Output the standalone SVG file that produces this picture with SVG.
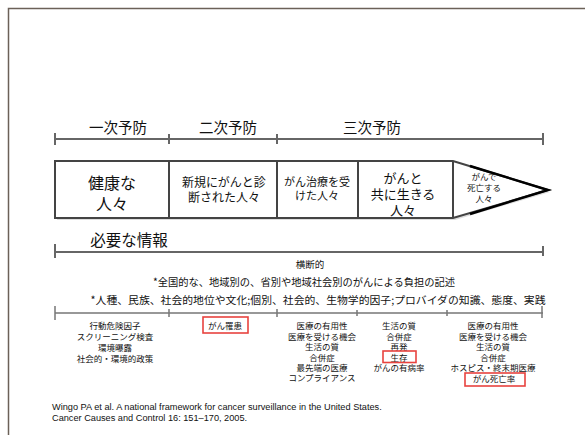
<svg xmlns="http://www.w3.org/2000/svg" width="585" height="435" viewBox="0 0 585 435">
<style>
text{font-family:"Noto Sans CJK JP","Liberation Sans",sans-serif;fill:#111;text-anchor:middle}
.cite{font-family:"Liberation Sans",Arial,sans-serif;text-anchor:start;font-size:9.2px}
.tl{stroke:#666;stroke-width:2;fill:none}
.bl{stroke:#777;stroke-width:1.5;fill:none}
.box{fill:#fff;stroke:#444;stroke-width:2}
.red{fill:none;stroke:#e8433f;stroke-width:1.6}
.s9{font-size:8.5px}
</style>
<rect x="0" y="0" width="585" height="435" fill="#fff"/>
<path d="M8.5 435 V8.5 H585" fill="none" stroke="#6b6158" stroke-width="1.5"/>

<g id="connectors">
<path class="tl" d="M55 139 H543 M55 133 V145 M169 134 V144 M277 134 V144 M543 133 V145"/>
<path class="tl" d="M55 252 H543 M55 244 V258 M543 246 V256"/>
<path class="bl" d="M55 313 H543 M55 306 V320 M169 309 V317 M277 309 V317 M357 310 V316 M447 310 V316 M542 306 V318"/>
</g>

<g id="phase-labels" font-size="14.5">
<text x="118" y="133">一次予防</text>
<text x="228" y="133">二次予防</text>
<text x="372" y="133">三次予防</text>
</g>

<g id="stages">
<path d="M57 163 H455 L550 192 L455 220 H57 Z" fill="#bbb" opacity="0.5"/>
<path class="box" d="M55 161 H453 L548 190 L453 218 H55 Z"/>
<path d="M169 161 V218 M277 161 V218 M358 161 V218 M453 161 V218" stroke="#444" stroke-width="2"/>
<path d="M470 166 L548 190 L470 214" stroke="#000" stroke-width="2.5" fill="none"/>
</g>

<g id="n-healthy" font-size="16">
<text x="112" y="189">健康な</text>
<text x="112" y="210">人々</text>
</g>
<g id="n-diagnosed" font-size="12">
<text x="224" y="187">新規にがんと診</text>
<text x="224" y="202">断された人々</text>
</g>
<g id="n-treated" font-size="11">
<text x="317" y="186">がん治療を受</text>
<text x="317" y="200">けた人々</text>
</g>
<g id="n-living" font-size="13">
<text x="403" y="183">がんと</text>
<text x="403" y="199">共に生きる</text>
<text x="403" y="215">人々</text>
</g>
<g id="n-dying" font-size="8.5">
<text x="484" y="180">がんで</text>
<text x="484" y="191">死亡する</text>
<text x="484" y="202">人々</text>
</g>

<g id="info-header">
<text x="129" y="246" font-size="15.5">必要な情報</text>
</g>

<g id="cross-cutting">
<text x="310" y="268" font-size="9.5">横断的</text>
<text x="304" y="286" font-size="10.5" textLength="302" lengthAdjust="spacingAndGlyphs">*全国的な、地域別の、省別や地域社会別のがんによる負担の記述</text>
<text x="318" y="304" font-size="10.5" textLength="455" lengthAdjust="spacingAndGlyphs">*人種、民族、社会的地位や文化;個別、社会的、生物学的因子;プロバイダの知識、態度、実践</text>
</g>

<g id="col-primary" class="s9">
<text x="115" y="329">行動危険因子</text>
<text x="115" y="340">スクリーニング検査</text>
<text x="115" y="351">環境曝露</text>
<text x="115" y="362">社会的・環境的政策</text>
</g>
<g id="col-secondary" class="s9">
<text x="225" y="329">がん罹患</text>
<rect class="red" x="203" y="317" width="45" height="16"/>
</g>
<g id="col-treated" class="s9">
<text x="322" y="329">医療の有用性</text>
<text x="322" y="340">医療を受ける機会</text>
<text x="322" y="350">生活の質</text>
<text x="322" y="361">合併症</text>
<text x="322" y="371">最先端の医療</text>
<text x="322" y="381">コンプライアンス</text>
</g>
<g id="col-living" class="s9">
<text x="399" y="329">生活の質</text>
<text x="399" y="340">合併症</text>
<text x="399" y="350">再発</text>
<text x="399" y="361">生存</text>
<text x="399" y="371">がんの有病率</text>
<rect class="red" x="383" y="351" width="33" height="11.5"/>
</g>
<g id="col-dying" class="s9">
<text x="493" y="329">医療の有用性</text>
<text x="493" y="340">医療を受ける機会</text>
<text x="493" y="350">生活の質</text>
<text x="493" y="361">合併症</text>
<text x="493" y="371">ホスピス・終末期医療</text>
<text x="494" y="382">がん死亡率</text>
<rect class="red" x="465" y="373" width="60" height="13"/>
</g>

<g id="citation">
<text class="cite" x="52" y="410">Wingo PA et al. A national framework for cancer surveillance in the United States.</text>
<text class="cite" x="52" y="421">Cancer Causes and Control 16: 151–170, 2005.</text>
</g>
</svg>
